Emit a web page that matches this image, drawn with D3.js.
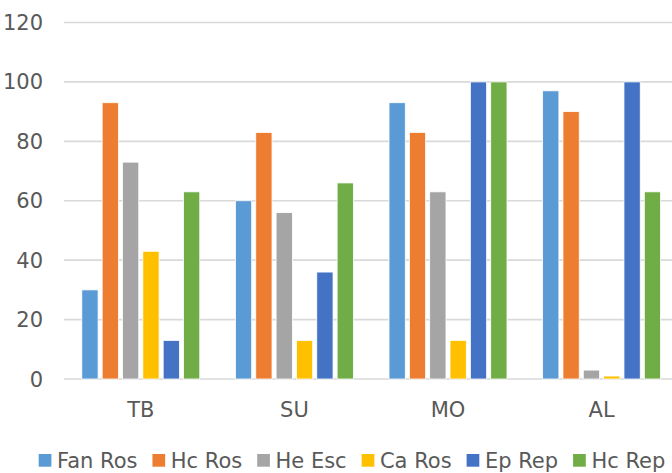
<!DOCTYPE html>
<html><head><meta charset="utf-8">
<script src="https://cdn.jsdelivr.net/npm/d3@7/dist/d3.min.js"></script>
<style>
html,body{margin:0;padding:0;background:#fff;}
svg{display:block;font-family:"DejaVu Sans",sans-serif;}
</style></head>
<body><svg id="chart" width="672" height="473"></svg>
<script>
const categories = ["TB", "SU", "MO", "AL"];
const seriesNames = ["Fan Ros", "Hc Ros", "He Esc", "Ca Ros", "Ep Rep", "Hc Rep"];
const seriesColors = ["#5B9BD5", "#ED7D31", "#A5A5A5", "#FFC000", "#4472C4", "#70AD47"];
const fanRos = [30, 60, 93, 97];
const hcRos  = [93, 83, 83, 90];
const heEsc  = [73, 56, 63, 3];
const caRos  = [43, 13, 13, 1];
const epRep  = [13, 36, 100, 100];
const hcRep  = [63, 66, 100, 63];
const seriesValues = [fanRos, hcRos, heEsc, caRos, epRep, hcRep];
const yTicks = [0, 20, 40, 60, 80, 100, 120];

const svg = d3.select("#chart");
const W = 672;
const FS = 21;
const x0 = d3.scaleBand().domain(categories).range([64, 678.4]).paddingInner(0.232).paddingOuter(0.116);
const x1 = d3.scaleBand().domain(seriesNames).range([0, x0.bandwidth()]).paddingInner(0.2).paddingOuter(0);
const y = d3.scaleLinear().domain([0, 120]).range([379, 22.5]);

// gridlines
svg.append("g").selectAll("line").data(yTicks).join("line")
  .attr("x1", 64).attr("x2", W)
  .attr("y1", d => y(d)).attr("y2", d => y(d))
  .attr("stroke", "#D9D9D9").attr("stroke-width", 1.6);

// y tick labels
svg.append("g").selectAll("text").data(yTicks).join("text")
  .attr("x", 43).attr("y", d => y(d)).attr("dy", "0.36em")
  .attr("text-anchor", "end").attr("fill", "#595959").attr("font-size", FS)
  .text(d => d);

// bars
const groups = svg.append("g").selectAll("g").data(categories).join("g")
  .attr("transform", c => `translate(${x0(c)},0)`);
groups.selectAll("rect").data((c, ci) => seriesNames.map((s, si) => ({s, si, v: seriesValues[si][ci]})))
  .join("rect")
  .attr("x", d => x1(d.s)).attr("width", x1.bandwidth())
  .attr("y", d => y(d.v)).attr("height", d => y(0) - y(d.v))
  .attr("fill", d => seriesColors[d.si])
  .attr("stroke", "#fff").attr("stroke-width", 0.8);

// category labels
svg.append("g").selectAll("text").data(categories).join("text")
  .attr("x", c => x0(c) + x0.bandwidth() / 2).attr("y", 416.5)
  .attr("text-anchor", "middle").attr("fill", "#595959").attr("font-size", FS)
  .text(c => c);

// legend
const leg = svg.append("g");
const items = leg.selectAll("g").data(seriesNames).join("g");
items.append("rect").attr("width", 12.7).attr("height", 12.7).attr("y", 454)
  .attr("fill", (d, i) => seriesColors[i]);
items.append("text").attr("x", 18.3).attr("y", 468.3)
  .attr("fill", "#595959").attr("font-size", FS).text(d => d);
let xpos = 0;
const positions = [];
items.each(function() {
  const tw = d3.select(this).select("text").node().getComputedTextLength();
  positions.push(xpos);
  xpos += 18.3 + tw + 15;
});
const total = xpos - 15;
const start = 352 - total / 2;
items.attr("transform", (d, i) => `translate(${start + positions[i]},0)`);
</script></body></html>
